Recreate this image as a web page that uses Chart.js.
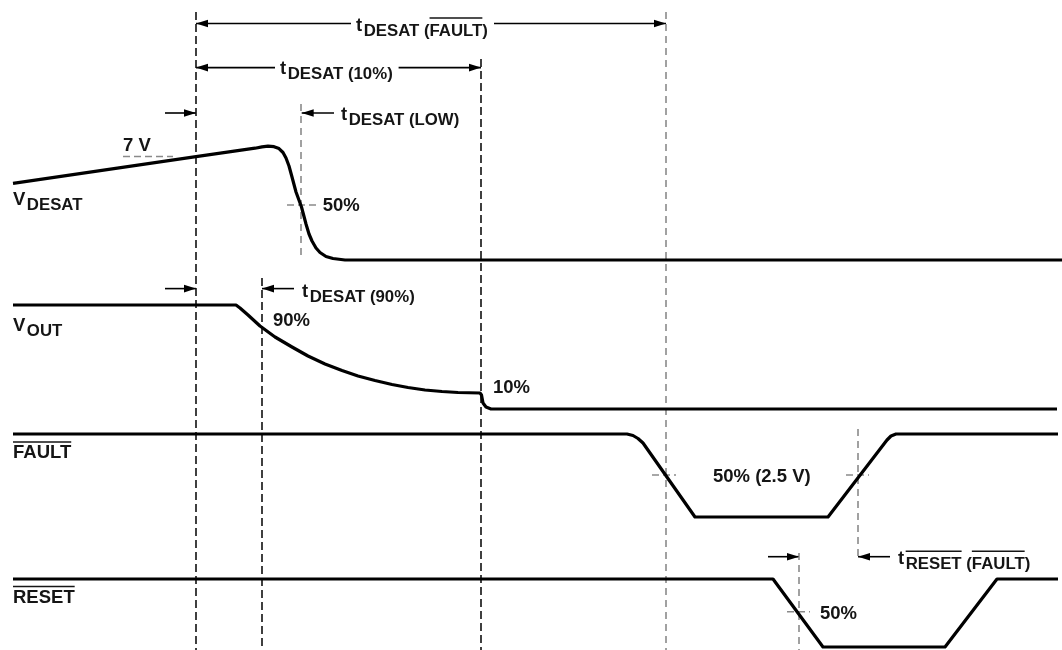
<!DOCTYPE html>
<html><head><meta charset="utf-8">
<script src="https://cdn.jsdelivr.net/npm/chart.js@4.4.1/dist/chart.umd.min.js"></script>
<style>html,body{margin:0;padding:0;background:#fff;overflow:hidden}#wrap{width:1062px;height:650px;position:relative}</style>
</head><body><div id="wrap"><canvas id="c"></canvas></div>
<script>
// ---- signal waveforms (time, level) ----
const vdesatT = [13,196,255,262,268,274,279,283,286,289,292,296,301.5,306,309,312,316,320,326,333,345,1062];
const vdesatV = [183.3,156.7,148.2,146.9,146.2,146.7,148.6,152.5,158,166,177,192,207,224,234,241,248,252.5,256.5,258.5,260,260];
const voutT = [13,236,240,248,260,275,292,308,325,342,358,375,392,408,425,442,458,480,481.5,483,486,491,1057];
const voutV = [305,305,308,315,326,337,347,356,364,370.5,376,380.5,384.5,387.5,390,391.5,392.5,393,395,403,407,409,409];
const faultT = [13,627,633,638,643,695,828,887,891,896,1058];
const faultV = [434,434,435.5,438.5,443,517,517,440,436,434,434];
const resetT = [13,773,823,945,997,1058];
const resetV = [579,579,647,647,579,579];

// ---- timing markers (vertical dashed) ----
const markerT    = [196,262,481,301,666,858,799];
const markerFrom = [12,278,59,104,12,429,553];
const markerTo   = [650,650,650,255,650,560,650];
const markerGray = [false,false,false,true,true,true,true];

// ---- level reference ticks (short horizontal) ----
const refFrom  = [123,287,652,846,787];
const refTo    = [173,317,676,869,810];
const refLevel = [156.5,205,475,475,611.7];

// ---- interval arrows ----
const arrowStart = [196,196,334,165,165,294,768,890];
const arrowEnd   = [666,481,301.7,196,196,262,799,858];
const arrowLevel = [23.5,67.6,113,113,288.6,288.6,556.7,556.7];
const arrowGapA  = [351,275,null,null,null,null,null,null];
const arrowGapB  = [494,398.6,null,null,null,null,null,null];
const arrowHeadStart = [true,true,false,false,false,false,false,false];

// ---- text labels ----
// parts: [text, kind] kind: m=main, s=subscript, mo=main overlined, so=subscript overlined
const labelParts = [
  [['t','m'],['DESAT (','s'],['FAULT','so'],[')','s']],
  [['t','m'],['DESAT (10%)','s']],
  [['t','m'],['DESAT (LOW)','s']],
  [['t','m'],['DESAT (90%)','s']],
  [['t','m'],['RESET','so'],[' (','s'],['FAULT','so'],[')','s']],
  [['V','m'],['DESAT','s']],
  [['V','m'],['OUT','s']],
  [['FAULT','mo']],
  [['RESET','mo']],
  [['7 V','m']],
  [['50%','m']],
  [['90%','m']],
  [['10%','m']],
  [['50% (2.5 V)','m']],
  [['50%','m']]
];
const labelT     = [356,280,341,302,898,13,13,13,13,123,322.7,273,493,713,820];
const labelLevel = [30.5,73.5,119.7,296.7,563.7,205,331,458.3,602.7,150.7,210.8,326,393,482,618.5];

const pts = (xs, ys) => xs.map((x, i) => ({x: x, y: ys[i]}));

const datasets = [];
const sig = (xs, ys) => ({data: pts(xs, ys), borderColor: '#000', borderWidth: 3.2, pointRadius: 0,
  tension: 0, borderJoinStyle: 'round', borderCapStyle: 'butt', showLine: true, clip: false});
datasets.push(sig(vdesatT, vdesatV), sig(voutT, voutV), sig(faultT, faultV), sig(resetT, resetV));

markerT.forEach((t, i) => {
  datasets.push({data: [{x: t, y: markerFrom[i]}, {x: t, y: markerTo[i]}], showLine: true, pointRadius: 0,
    borderColor: markerGray[i] ? '#8a8a8a' : '#111', borderWidth: markerGray[i] ? 1.6 : 1.6,
    borderDash: markerGray[i] ? [7, 5] : [8, 4], clip: false});
});
refFrom.forEach((a, i) => {
  datasets.push({data: [{x: a, y: refLevel[i]}, {x: refTo[i], y: refLevel[i]}], showLine: true, pointRadius: 0,
    borderColor: '#8a8a8a', borderWidth: 1.6, borderDash: [7, 4], clip: false});
});
arrowStart.forEach((a, i) => {
  const b = arrowEnd[i], y = arrowLevel[i];
  let d;
  if (arrowGapA[i] !== null) d = [{x: a, y: y}, {x: arrowGapA[i], y: y}, {x: arrowGapA[i], y: null}, {x: arrowGapB[i], y: y}, {x: b, y: y}];
  else d = [{x: a, y: y}, {x: b, y: y}];
  datasets.push({data: d, showLine: true, pointRadius: 0, borderColor: '#000', borderWidth: 1.6, spanGaps: false, clip: false});
});

const annot = {
  id: 'annot',
  afterDatasetsDraw(chart) {
    const ctx = chart.ctx, X = chart.scales.x, Y = chart.scales.y;
    ctx.save();
    ctx.fillStyle = '#000';
    const head = (tip, from, y) => {
      const px = X.getPixelForValue(tip), py = Y.getPixelForValue(y);
      const dir = Math.sign(X.getPixelForValue(from) - px);
      ctx.beginPath();
      ctx.moveTo(px, py);
      ctx.lineTo(px + dir * 12, py - 3.8);
      ctx.lineTo(px + dir * 12, py + 3.8);
      ctx.closePath();
      ctx.fill();
    };
    arrowStart.forEach((a, i) => {
      head(arrowEnd[i], a, arrowLevel[i]);
      if (arrowHeadStart[i]) head(a, arrowEnd[i], arrowLevel[i]);
    });
    const fam = '"Liberation Sans", Arial, Helvetica, sans-serif';
    ctx.fillStyle = '#151515';
    ctx.strokeStyle = '#151515';
    ctx.lineWidth = 1.5;
    ctx.textBaseline = 'alphabetic';
    labelParts.forEach((parts, i) => {
      let x = X.getPixelForValue(labelT[i]);
      const base = Y.getPixelForValue(labelLevel[i]);
      parts.forEach((p, k) => {
        const [txt, kind] = p;
        const isSub = kind[0] === 's';
        const size = isSub ? 16.8 : 18.5;
        ctx.font = 'bold ' + size + 'px ' + fam;
        const yb = isSub ? base + 5 : base;
        if (isSub && k > 0 && parts[k - 1][1] === 'm') x += 1.5;
        ctx.fillText(txt, x, yb);
        const w = ctx.measureText(txt).width;
        if (kind.length > 1 && kind[1] === 'o') {
          const oy = yb - (isSub ? 17.5 : 16.3);
          const lead = txt.startsWith(' ') ? ctx.measureText(' ').width : 0;
          ctx.beginPath();
          ctx.moveTo(x + lead, oy);
          ctx.lineTo(x + w, oy);
          ctx.stroke();
        }
        x += w;
      });
    });
    ctx.restore();
  }
};

new Chart(document.getElementById('c'), {
  type: 'scatter',
  data: {datasets: datasets},
  options: {
    responsive: true, maintainAspectRatio: false, animation: false, events: [],
    layout: {padding: 0},
    plugins: {legend: {display: false}, tooltip: {enabled: false}},
    scales: {
      x: {type: 'linear', min: 0, max: 1062, display: false},
      y: {type: 'linear', min: 0, max: 650, reverse: true, display: false}
    }
  },
  plugins: [annot]
});
</script></body></html>
